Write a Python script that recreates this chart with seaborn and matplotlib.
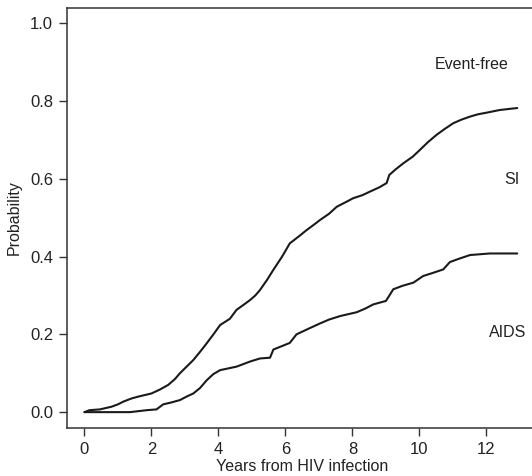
import matplotlib
matplotlib.use("Agg")
import matplotlib.pyplot as plt
import seaborn as sns
import pandas as pd

# Cumulative probability curves
si_years = [0.0, 0.15, 0.46, 0.81, 1.0, 1.16, 1.4, 1.61, 2.0, 2.25, 2.5, 2.7, 2.85, 3.05,
            3.25, 3.45, 3.65, 3.85, 4.05, 4.34, 4.54, 4.75, 4.94, 5.1, 5.24, 5.45, 5.64,
            5.9, 6.13, 6.4, 6.63, 6.85, 7.03, 7.3, 7.53, 7.8, 8.02, 8.3, 8.52, 8.8, 9.02,
            9.1, 9.3, 9.52, 9.8, 10.01, 10.25, 10.51, 10.75, 11.01, 11.25, 11.51, 11.75,
            12.0, 12.4, 12.92]
si_prob = [0.0, 0.005, 0.007, 0.014, 0.02, 0.027, 0.035, 0.04, 0.048, 0.058, 0.07, 0.085,
           0.10, 0.117, 0.134, 0.155, 0.177, 0.2, 0.224, 0.24, 0.263, 0.276, 0.288, 0.3,
           0.314, 0.34, 0.366, 0.40, 0.434, 0.452, 0.468, 0.482, 0.494, 0.51, 0.528, 0.54,
           0.55, 0.558, 0.567, 0.578, 0.589, 0.61, 0.625, 0.64, 0.657, 0.674, 0.694, 0.713,
           0.728, 0.743, 0.752, 0.76, 0.766, 0.770, 0.777, 0.782]

aids_years = [0.0, 1.36, 1.86, 2.15, 2.35, 2.6, 2.85, 3.05, 3.25, 3.45, 3.65, 3.85, 4.05,
              4.54, 4.94, 5.24, 5.54, 5.64, 5.9, 6.13, 6.33, 6.7, 7.03, 7.3, 7.63, 8.13,
              8.4, 8.62, 9.0, 9.22, 9.5, 9.82, 10.11, 10.4, 10.71, 10.91, 11.2, 11.51,
              12.1, 12.92]
aids_prob = [0.0, 0.0, 0.005, 0.007, 0.02, 0.025, 0.031, 0.04, 0.048, 0.062, 0.082, 0.098,
             0.108, 0.117, 0.13, 0.138, 0.14, 0.161, 0.17, 0.178, 0.2, 0.215, 0.228, 0.238,
             0.247, 0.257, 0.267, 0.277, 0.286, 0.316, 0.325, 0.333, 0.35, 0.358, 0.367,
             0.386, 0.395, 0.404, 0.408, 0.408]

labels = ["Event-free", "SI", "AIDS"]
label_x = [11.56, 12.75, 12.62]
label_y = [0.893, 0.597, 0.204]

x_ticks = [0, 2, 4, 6, 8, 10, 12]
y_ticks = [0.0, 0.2, 0.4, 0.6, 0.8, 1.0]

sns.set_theme(style="ticks")
plt.rcParams["font.family"] = ["Liberation Sans", "DejaVu Sans"]

fig = plt.figure(figsize=(5.32, 4.76), dpi=100)
ax = fig.add_axes([0.126, 0.1015, 0.874, 0.8823])

df_si = pd.DataFrame({"years": si_years, "prob": si_prob})
df_aids = pd.DataFrame({"years": aids_years, "prob": aids_prob})

sns.lineplot(data=df_si, x="years", y="prob", ax=ax, color="#1a1a1a",
             linewidth=1.5, estimator=None, sort=False)
sns.lineplot(data=df_aids, x="years", y="prob", ax=ax, color="#1a1a1a",
             linewidth=1.5, estimator=None, sort=False)

for t, x, y in zip(labels, label_x, label_y):
    ax.text(x, y, t, ha="center", va="center", fontsize=11.5, color="#222222")

ax.set_xlim(-0.52, 13.36)
ax.set_ylim(-0.04, 1.04)
ax.set_xticks(x_ticks)
ax.set_xticklabels([str(v) for v in x_ticks])
ax.set_yticks(y_ticks)
ax.set_yticklabels([f"{v:.1f}" for v in y_ticks])

for side in ["left", "top", "bottom"]:
    ax.spines[side].set_visible(True)
    ax.spines[side].set_color("#333333")
    ax.spines[side].set_linewidth(1.1)
ax.spines["right"].set_visible(False)

ax.tick_params(axis="both", direction="out", length=6, width=1.0, color="#333333",
               labelsize=12, labelcolor="#222222", pad=4)

ax.set_xlabel("Years from HIV infection", fontsize=11.5, color="#222222")
ax.set_ylabel("Probability", fontsize=11.5, color="#222222")
ax.xaxis.set_label_coords(0.505, -0.0936)
ax.xaxis.label.set_va("center")
ax.yaxis.set_label_coords(-0.114, 0.5)
ax.yaxis.label.set_va("center")

fig.savefig("out.png", dpi=100)
